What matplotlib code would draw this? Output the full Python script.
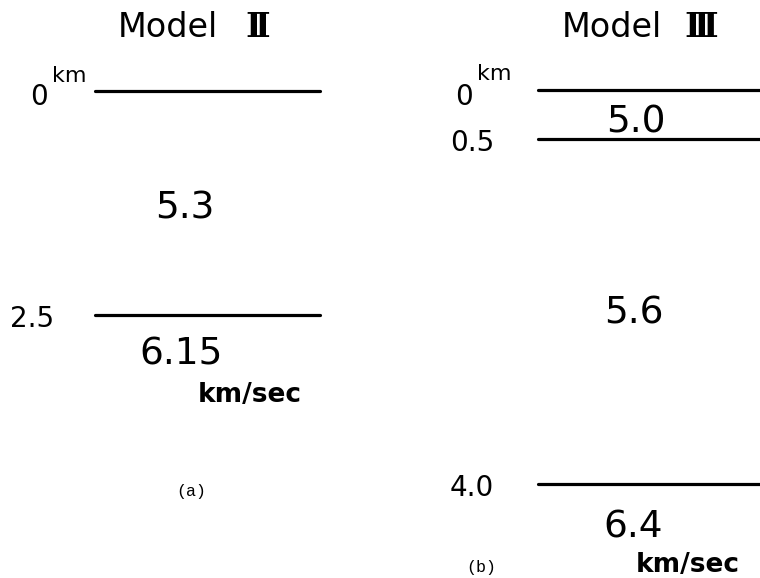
import matplotlib.pyplot as plt

# layer boundaries (km) and velocities (km/sec) for both models
depths_2 = [0, 2.5]
vels_2 = ["5.3", "6.15"]
depth_labels_2 = ["0", "2.5"]

depths_3 = [0, 0.5, 4.0]
vels_3 = ["5.0", "5.6", "6.4"]
depth_labels_3 = ["0", "0.5", "4.0"]

plt.rcParams['font.family'] = ['DejaVu Sans']

fig = plt.figure(figsize=(7.6, 5.78), dpi=100)
axl = fig.add_axes([0, 0, 0.5, 1])
axr = fig.add_axes([0.5, 0, 0.5, 1])

for ax in (axl, axr):
    ax.set_xlim(0, 1)
    ax.axis('off')

# left panel: 0 km at y=91px, 2.5 km at y=315px
s_l = 2.5 / (315 - 91)
axl.set_ylim((578 - 91) * s_l, -91 * s_l)
# right panel: 0 km at y=90px, 4.0 km at y=484px
s_r = 4.0 / (484 - 90)
axr.set_ylim((578 - 90) * s_r, -90 * s_r)


def draw_model(ax, depths, vels, labels, x0, x1, title_x, numeral, vel_pos, lab_x, unit_pos, tag, tag_pos):
    for d in depths:
        ax.plot([x0, x1], [d, d], color='black', lw=2.3, solid_capstyle='round', clip_on=False)
    for d, lab, lx in zip(depths, labels, lab_x):
        ax.text(lx, d + (0.07 if d == 0 else 0.04), lab, fontsize=20, ha='left', va='center')
    # superscript km on the zero label
    ax.text(lab_x[0] + 0.058, depths[0] - 0.06, "km", fontsize=16, ha='left', va='bottom')
    for (px, py), v in zip(vel_pos, vels):
        ax.text(px, py, v, fontsize=27, ha='center', va='center')
    ax.text(title_x[0], 0.952, "Model", fontsize=24, ha='left', va='center', transform=ax.transAxes)
    ax.text(title_x[1], 0.952, numeral, fontsize=24, family='DejaVu Serif', fontweight='bold',
            ha='left', va='center', transform=ax.transAxes)
    ax.text(unit_pos[0], unit_pos[1], "km/sec", fontsize=19, fontweight='bold', ha='center', va='center')
    ax.text(tag_pos[0], tag_pos[1], tag, fontsize=12, family='Liberation Mono', ha='center', va='center')


draw_model(axl, depths_2, vels_2, depth_labels_2, 0.25, 0.842, (0.31, 0.645), "Ⅱ",
           [(0.487, 1.306), (0.476, 2.946)], [0.079, 0.026], (0.658, 3.39), "(a)", (0.503, 4.475))
draw_model(axr, depths_3, vels_3, depth_labels_3, 0.416, 1.0, (0.479, 0.80), "Ⅲ",
           [(0.674, 0.325), (0.668, 2.264), (0.666, 4.437)], [0.197, 0.184, 0.184],
           (0.81, 4.82), "(b)", (0.266, 4.85))

fig.savefig('out.png', dpi=100)
